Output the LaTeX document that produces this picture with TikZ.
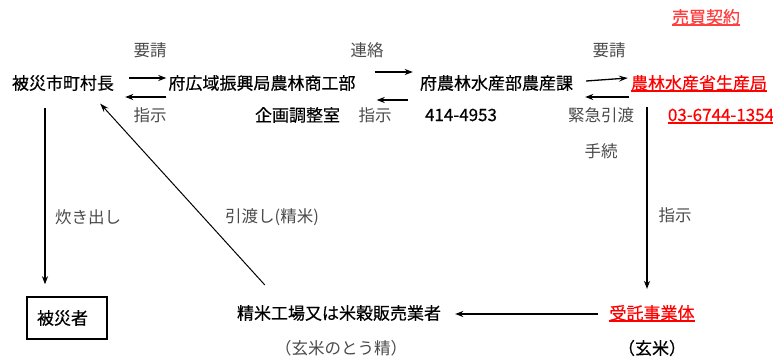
\documentclass[tikz,border=0pt]{standalone}
\usepackage{fontspec}
\newfontfamily\jp{Noto Sans CJK JP}
\newfontfamily\jpb[FakeBold=0.4]{Noto Sans CJK JP}
\usetikzlibrary{arrows.meta}
\definecolor{lbl}{HTML}{4A4A4A}
\definecolor{lred}{HTML}{FF4040}
\begin{document}
\begin{tikzpicture}[x=1pt,y=-1pt,
  main/.style={inner sep=0pt, font=\jpb\fontsize{17}{19}\selectfont, text=black},
  lab/.style={inner sep=0pt, font=\jp\fontsize{16.5}{19}\selectfont, text=lbl},
  redtxt/.style={main, text=red},
  arr/.style={line width=1.7pt, -{Stealth[length=8pt,width=6pt,inset=2.5pt]}},
  thinarr/.style={line width=1pt, -{Stealth[length=9pt,width=6pt,inset=3.5pt]}},
  uline/.style={red, line width=1.6pt}]
\useasboundingbox (0,0) rectangle (773,356);

% main nodes
\node[main] (hisai) at (63,83) {被災市町村長};
\node[main] (kouiki) at (262,83) {府広域振興局農林商工部};
\node[main] (nousan) at (496.5,83) {府農林水産部農産課};
\node[redtxt] (seisan) at (699,83) {農林水産省生産局};
\node[main, text=lred] (baibai) at (706,17) {売買契約};
\node[main] (kikaku) at (297.5,115) {企画調整室};
\node[main] (tel1) at (461,115) {414-4953};
\node[redtxt] (tel2) at (721,115) {03-6744-1354};
\node[redtxt] (jutaku) at (652,313) {受託事業体};
\node[main] (genmai) at (652,348) {（玄米）};
\node[main] (seimai) at (339,313) {精米工場又は米穀販売業者};
\node[lab] (tousei) at (341,348) {（玄米のとう精）};
\node[main, draw, line width=1.5pt, inner xsep=10pt, text width=60pt, align=left,
      minimum height=42pt] (hisaisha) at (67,318) {被災者};

% labels
\node[lab] (l1) at (150,50) {要請};
\node[lab] (l2) at (367,50) {連絡};
\node[lab] (l3) at (609,50) {要請};
\node[lab] (l4) at (150,115) {指示};
\node[lab] (l5) at (375,115) {指示};
\node[lab] (l6) at (601,115) {緊急引渡};
\node[lab] (l7) at (601,151) {手続};
\node[lab] (l8) at (675,215) {指示};
\node[lab] (l9) at (88,217) {炊き出し};
\node[lab] (l10) at (272,217) {引渡し(精米)};

% underlines
\draw[uline, draw=lred] (baibai.south west) -- (baibai.south east);
\draw[uline] (seisan.south west) -- (seisan.south east);
\draw[uline] ([yshift=-1.5pt]tel2.south west) -- ([yshift=-1.5pt]tel2.south east);
\draw[uline] (jutaku.south west) -- (jutaku.south east);

% arrows top row
\draw[arr] ([shift={(15,-5)}]hisai.east) -- ([shift={(-2,-5)}]kouiki.west);
\draw[arr] ([shift={(-2,14)}]kouiki.west) -- ([shift={(11,14)}]hisai.east);
\draw[arr] ([shift={(19,-11)}]kouiki.east) -- ([shift={(-7,-11)}]nousan.west);
\draw[arr] ([shift={(-12,17)}]nousan.west) -- ([shift={(21,17)}]kouiki.east);
\draw[thinarr, line width=1.3pt] ([shift={(13,-2)}]nousan.east) -- ([shift={(-3,-5)}]seisan.west);
\draw[arr] ([shift={(-2,14)}]seisan.west) -- ([shift={(12,14)}]nousan.east);

% vertical arrows
\coordinate (vtop) at (647,107);
\draw[arr] (vtop) -- ([shift={(-5,-16)}]jutaku.north);
\draw[arr] ([shift={(-18,17)}]hisai.south) -- ([shift={(-22,-12)}]hisaisha.north);

% bottom arrow
\draw[arr] ([shift={(-11,1)}]jutaku.west) -- ([shift={(14,1)}]seimai.east);

% diagonal
\draw[thinarr] ([shift={(28,-20)}]seimai.north west) -- ([shift={(-14,12.5)}]hisai.south east);
\end{tikzpicture}
\end{document}
